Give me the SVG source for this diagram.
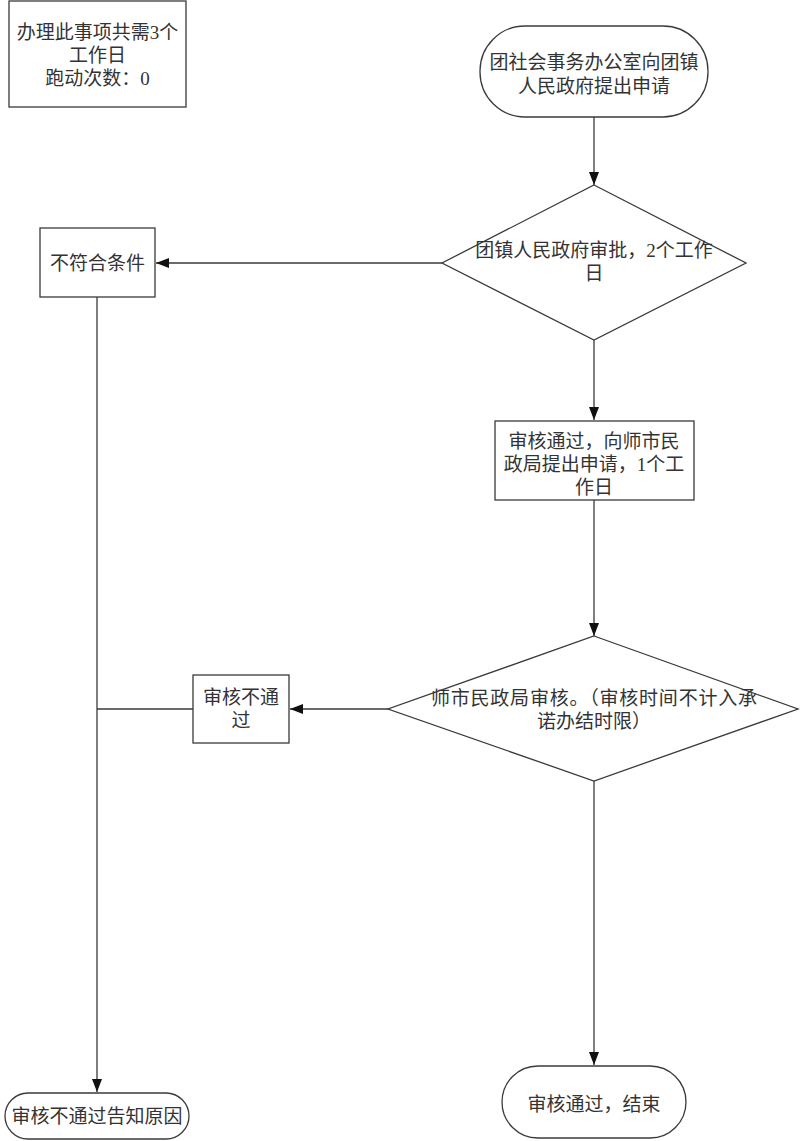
<svg xmlns="http://www.w3.org/2000/svg" width="800" height="1141" viewBox="0 0 800 1141">
<style>
.s{fill:#fff;stroke:#3a3a3a;stroke-width:1.3}
.c{fill:none;stroke:#3a3a3a;stroke-width:1.3}
text{font-family:"Liberation Serif","Noto Sans CJK SC",serif;font-size:19px;fill:#333;text-anchor:middle;dominant-baseline:central}
</style>
<defs>
<marker id="a" markerUnits="userSpaceOnUse" markerWidth="14" markerHeight="12" refX="13" refY="6" orient="auto">
<path d="M0,1 L13,6 L0,11 z" fill="#111"/>
</marker>
</defs>
<rect width="800" height="1141" fill="#fff"/>
<g id="connectors">
<path class="c" d="M594,117 V185" marker-end="url(#a)"/>
<path class="c" d="M442,263 H156" marker-end="url(#a)"/>
<path class="c" d="M594,340 V420" marker-end="url(#a)"/>
<path class="c" d="M594,500 V636" marker-end="url(#a)"/>
<path class="c" d="M388,709 H290" marker-end="url(#a)"/>
<path class="c" d="M594,781 V1065" marker-end="url(#a)"/>
<path class="c" d="M97,297 V1092" marker-end="url(#a)"/>
<path class="c" d="M193,709 H97"/>
</g>
<g id="info">
<rect class="s" x="9" y="1" width="177" height="106"/>
<text x="97.5" y="32">办理此事项共需3个</text>
<text x="97.5" y="55">工作日</text>
<text x="97.5" y="78">跑动次数：0</text>
</g>
<g id="start">
<rect class="s" x="480" y="26" width="228" height="91" rx="45" ry="45"/>
<text x="594" y="62">团社会事务办公室向团镇</text>
<text x="594" y="86">人民政府提出申请</text>
</g>
<g id="decision1">
<polygon class="s" points="594,185 746,263 594,340 442,263"/>
<text x="594" y="250">团镇人民政府审批，2个工作</text>
<text x="594" y="273">日</text>
</g>
<g id="reject1">
<rect class="s" x="40" y="228" width="115" height="69"/>
<text x="97.5" y="263">不符合条件</text>
</g>
<g id="apply">
<rect class="s" x="495" y="421" width="199" height="79"/>
<text x="594" y="441">审核通过，向师市民</text>
<text x="594" y="464">政局提出申请，1个工</text>
<text x="594" y="487">作日</text>
</g>
<g id="decision2">
<polygon class="s" points="594,636 798,709 594,781 388,709"/>
<text x="594" y="698" textLength="326" lengthAdjust="spacing">师市民政局审核。（审核时间不计入承</text>
<text x="594" y="721">诺办结时限）</text>
</g>
<g id="reject2">
<rect class="s" x="193" y="675" width="96" height="68"/>
<text x="241" y="697">审核不通</text>
<text x="241" y="720">过</text>
</g>
<g id="endFail">
<rect class="s" x="5" y="1093" width="184" height="46" rx="23" ry="23"/>
<text x="97" y="1116">审核不通过告知原因</text>
</g>
<g id="endOk">
<rect class="s" x="502" y="1066" width="184" height="72" rx="36" ry="36"/>
<text x="594" y="1104">审核通过，结束</text>
</g>
</svg>
